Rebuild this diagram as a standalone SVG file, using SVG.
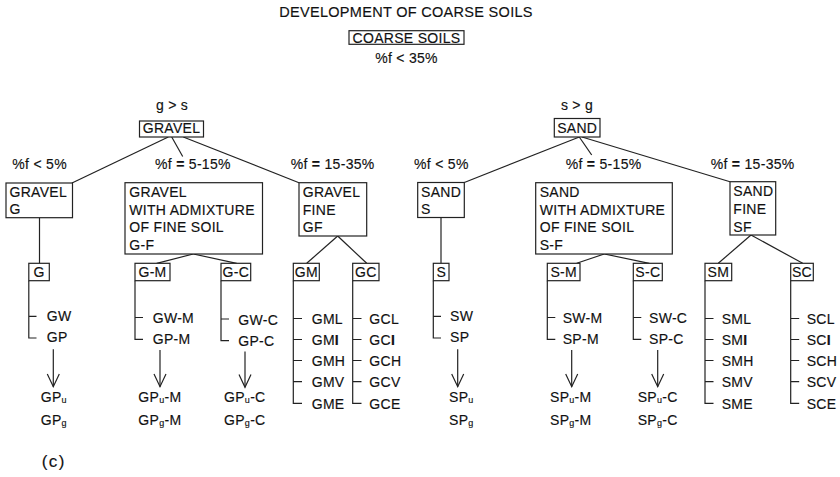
<svg xmlns="http://www.w3.org/2000/svg" width="840" height="477" viewBox="0 0 840 477">
<defs>
<style>
text{font-family:"Liberation Sans",Arial,sans-serif;font-size:14px;letter-spacing:0.3px;fill:#111;stroke:#111;stroke-width:0.15px}
.box{fill:#fff;stroke:#222;stroke-width:1.2}
.ln{stroke:#222;stroke-width:1.2;fill:none}
.mid{text-anchor:middle}
.sub{font-size:9px}
.b{font-weight:bold}
</style>
<marker id="arr" viewBox="-14 -8 16 16" refX="0" refY="0" markerWidth="16" markerHeight="16" markerUnits="userSpaceOnUse" orient="auto">
<path d="M-12.7,-6 L0,0 L-12.7,6" fill="none" stroke="#222" stroke-width="1.2"/>
</marker>
</defs>
<rect width="840" height="477" fill="#fff"/>

<g id="title"><text x="406" y="17" class="mid" style="font-size:14.5px">DEVELOPMENT OF COARSE SOILS</text></g>
<g id="coarse">
<rect class="box" x="349" y="30.7" width="115" height="13.6"/>
<text x="406.5" y="42.5" class="mid">COARSE SOILS</text>
<text x="406.5" y="63" class="mid">%f &lt; 35%</text>
</g>

<g id="connectors">
<line class="ln" x1="168.3" y1="137" x2="72" y2="183"/>
<line class="ln" x1="171.7" y1="137" x2="182.7" y2="156.5"/>
<line class="ln" x1="183.3" y1="137" x2="299" y2="182.7"/>
<line class="ln" x1="39.5" y1="217.7" x2="39.5" y2="263.3"/>
<line class="ln" x1="193.3" y1="254" x2="156.7" y2="263.3"/>
<line class="ln" x1="193.3" y1="254" x2="236.7" y2="263.3"/>
<line class="ln" x1="337.7" y1="236" x2="306.7" y2="263.3"/>
<line class="ln" x1="337.7" y1="236" x2="366.7" y2="263.3"/>
<line class="ln" x1="579.3" y1="137" x2="464.3" y2="182.5"/>
<line class="ln" x1="579.3" y1="137" x2="591.7" y2="155"/>
<line class="ln" x1="582" y1="137" x2="730" y2="181.7"/>
<line class="ln" x1="441" y1="217.5" x2="441" y2="263.3"/>
<line class="ln" x1="604.3" y1="254" x2="576.7" y2="263.3"/>
<line class="ln" x1="604.3" y1="254" x2="649.3" y2="263.3"/>
<line class="ln" x1="751" y1="235" x2="718.3" y2="263.3"/>
<line class="ln" x1="751" y1="235" x2="802.7" y2="263.3"/>
<!-- brackets -->
<path class="ln" d="M28.8,280.7 V338 H36.5 M28.8,316.3 H36.5"/>
<path class="ln" d="M135,280.7 V339.3 H143 M135,317.5 H143"/>
<path class="ln" d="M221,280.7 V340.7 H229 M221,319 H229"/>
<path class="ln" d="M293.3,280.7 V403.3 H302 M293.3,318.5 H302 M293.3,339.5 H302 M293.3,360.5 H302 M293.3,381.7 H302"/>
<path class="ln" d="M352.7,280.7 V403.3 H361.5 M352.7,318.5 H361.5 M352.7,339.5 H361.5 M352.7,360.5 H361.5 M352.7,381.7 H361.5"/>
<path class="ln" d="M433.3,280.7 V338 H441 M433.3,316.3 H441"/>
<path class="ln" d="M547.3,280.7 V339.3 H555.3 M547.3,317.5 H555.3"/>
<path class="ln" d="M633.3,280.7 V339.3 H641.3 M633.3,317.5 H641.3"/>
<path class="ln" d="M705,280.7 V403.3 H713.5 M705,318.5 H713.5 M705,339.5 H713.5 M705,360.5 H713.5 M705,381.7 H713.5"/>
<path class="ln" d="M790.7,280.7 V403.3 H799.2 M790.7,318.5 H799.2 M790.7,339.5 H799.2 M790.7,360.5 H799.2 M790.7,381.7 H799.2"/>
<!-- arrows -->
<line class="ln" x1="53.3" y1="349.3" x2="53.3" y2="386.7" marker-end="url(#arr)"/>
<line class="ln" x1="160" y1="350" x2="160" y2="386.7" marker-end="url(#arr)"/>
<line class="ln" x1="245" y1="351.5" x2="245" y2="387.3" marker-end="url(#arr)"/>
<line class="ln" x1="457.7" y1="349.3" x2="457.7" y2="386.7" marker-end="url(#arr)"/>
<line class="ln" x1="571.7" y1="350" x2="571.7" y2="386.7" marker-end="url(#arr)"/>
<line class="ln" x1="657.7" y1="350" x2="657.7" y2="386.7" marker-end="url(#arr)"/>
</g>

<g id="labels">
<text x="12.3" y="168.5">%f &lt; 5%</text>
<text x="155" y="168.5">%f <tspan class="b">=</tspan> 5-15%</text>
<text x="290.7" y="168.5">%f <tspan class="b">=</tspan> 15-35%</text>
<text x="414" y="168.5">%f &lt; 5%</text>
<text x="565.7" y="168.5">%f <tspan class="b">=</tspan> 5-15%</text>
<text x="710.7" y="168.5">%f <tspan class="b">=</tspan> 15-35%</text>
</g>

<g id="gravel">
<text x="172" y="110" class="mid">g &gt; s</text>
<rect class="box" x="139.5" y="121" width="64" height="16"/>
<text x="142.7" y="133">GRAVEL</text>
</g>
<g id="sand">
<text x="577" y="110" class="mid">s &gt; g</text>
<rect class="box" x="554.3" y="118.5" width="45.7" height="18.5"/>
<text x="577.2" y="133" class="mid">SAND</text>
</g>

<g id="gravel-g">
<rect class="box" x="6" y="183" width="66.5" height="34.7"/>
<text x="9.5" y="196.7">GRAVEL</text>
<text x="9.5" y="213.5">G</text>
</g>
<g id="gravel-gf-adm">
<rect class="box" x="125" y="182.7" width="137.5" height="71.3"/>
<text x="129.3" y="196.7">GRAVEL</text>
<text x="129.3" y="214.5">WITH ADMIXTURE</text>
<text x="129.3" y="232.3">OF FINE SOIL</text>
<text x="129.3" y="250">G-F</text>
</g>
<g id="gravel-fine">
<rect class="box" x="299" y="182.7" width="67.7" height="53.3"/>
<text x="302.7" y="196.7">GRAVEL</text>
<text x="302.7" y="214.5">FINE</text>
<text x="302.7" y="232.3">GF</text>
</g>
<g id="sand-s">
<rect class="box" x="417.7" y="182.5" width="46.6" height="35"/>
<text x="421" y="196.7">SAND</text>
<text x="421" y="213.5">S</text>
</g>
<g id="sand-sf-adm">
<rect class="box" x="535.7" y="182.7" width="136.6" height="71.3"/>
<text x="539.7" y="196.7">SAND</text>
<text x="539.7" y="214.5">WITH ADMIXTURE</text>
<text x="539.7" y="232.3">OF FINE SOIL</text>
<text x="539.7" y="250">S-F</text>
</g>
<g id="sand-fine">
<rect class="box" x="730" y="181.7" width="45.7" height="53.3"/>
<text x="733.3" y="196">SAND</text>
<text x="733.3" y="213.8">FINE</text>
<text x="733.3" y="231.6">SF</text>
</g>

<g id="g"><rect class="box" x="28.8" y="263.3" width="20.5" height="17.4"/><text x="39.1" y="277" class="mid">G</text></g>
<g id="g-m"><rect class="box" x="135" y="263.3" width="35" height="17.4"/><text x="152.5" y="277" class="mid">G-M</text></g>
<g id="g-c"><rect class="box" x="221" y="263.3" width="29.7" height="17.4"/><text x="235.9" y="277" class="mid">G-C</text></g>
<g id="gm"><rect class="box" x="293.3" y="263.3" width="26" height="17.4"/><text x="306.3" y="277" class="mid">GM</text></g>
<g id="gc"><rect class="box" x="352.7" y="263.3" width="26.3" height="17.4"/><text x="365.9" y="277" class="mid">GC</text></g>
<g id="s"><rect class="box" x="433.3" y="263.3" width="15.7" height="17.4"/><text x="441.2" y="277" class="mid">S</text></g>
<g id="s-m"><rect class="box" x="547.3" y="263.3" width="32.7" height="17.4"/><text x="563.7" y="277" class="mid">S-M</text></g>
<g id="s-c"><rect class="box" x="633.3" y="263.3" width="29" height="17.4"/><text x="647.8" y="277" class="mid">S-C</text></g>
<g id="sm"><rect class="box" x="705" y="263.3" width="26.7" height="17.4"/><text x="718.4" y="277" class="mid">SM</text></g>
<g id="sc"><rect class="box" x="790.7" y="263.3" width="22.6" height="17.4"/><text x="802" y="277" class="mid">SC</text></g>

<g id="g-list">
<text x="46.7" y="321.3">GW</text><text x="46.7" y="342.3">GP</text>
<text x="40.7" y="401.7">GP<tspan class="sub" dy="1">u</tspan></text>
<text x="40.7" y="425">GP<tspan class="sub" dy="1">g</tspan></text>
</g>
<g id="g-m-list">
<text x="152.7" y="323">GW-M</text><text x="152.7" y="344">GP-M</text>
<text x="138.3" y="401.7">GP<tspan class="sub" dy="1">u</tspan><tspan dy="-1">-M</tspan></text>
<text x="138.3" y="425">GP<tspan class="sub" dy="1">g</tspan><tspan dy="-1">-M</tspan></text>
</g>
<g id="g-c-list">
<text x="238.3" y="324.5">GW-C</text><text x="238.3" y="345.5">GP-C</text>
<text x="224" y="401.7">GP<tspan class="sub" dy="1">u</tspan><tspan dy="-1">-C</tspan></text>
<text x="224" y="425">GP<tspan class="sub" dy="1">g</tspan><tspan dy="-1">-C</tspan></text>
</g>
<g id="gm-list">
<text x="311.7" y="324">GML</text><text x="311.7" y="345">GM<tspan class="b">I</tspan></text><text x="311.7" y="366">GMH</text><text x="311.7" y="387.3">GMV</text><text x="311.7" y="408.5">GME</text>
</g>
<g id="gc-list">
<text x="369.3" y="324">GCL</text><text x="369.3" y="345">GC<tspan class="b">I</tspan></text><text x="369.3" y="366">GCH</text><text x="369.3" y="387.3">GCV</text><text x="369.3" y="408.5">GCE</text>
</g>
<g id="s-list">
<text x="450" y="321.3">SW</text><text x="450" y="342.3">SP</text>
<text x="449" y="401.7">SP<tspan class="sub" dy="1">u</tspan></text>
<text x="449" y="425">SP<tspan class="sub" dy="1">g</tspan></text>
</g>
<g id="s-m-list">
<text x="562.7" y="323">SW-M</text><text x="562.7" y="344">SP-M</text>
<text x="550" y="401.7">SP<tspan class="sub" dy="1">u</tspan><tspan dy="-1">-M</tspan></text>
<text x="550" y="425">SP<tspan class="sub" dy="1">g</tspan><tspan dy="-1">-M</tspan></text>
</g>
<g id="s-c-list">
<text x="649" y="323">SW-C</text><text x="649" y="344">SP-C</text>
<text x="637.7" y="401.7">SP<tspan class="sub" dy="1">u</tspan><tspan dy="-1">-C</tspan></text>
<text x="637.7" y="425">SP<tspan class="sub" dy="1">g</tspan><tspan dy="-1">-C</tspan></text>
</g>
<g id="sm-list">
<text x="721.7" y="324">SML</text><text x="721.7" y="345">SM<tspan class="b">I</tspan></text><text x="721.7" y="366">SMH</text><text x="721.7" y="387.3">SMV</text><text x="721.7" y="408.5">SME</text>
</g>
<g id="sc-list">
<text x="806.7" y="324">SCL</text><text x="806.7" y="345">SC<tspan class="b">I</tspan></text><text x="806.7" y="366">SCH</text><text x="806.7" y="387.3">SCV</text><text x="806.7" y="408.5">SCE</text>
</g>

<g id="caption"><text x="41.7" y="467.4" style="font-size:17px;letter-spacing:1.5px">(c)</text></g>
</svg>
